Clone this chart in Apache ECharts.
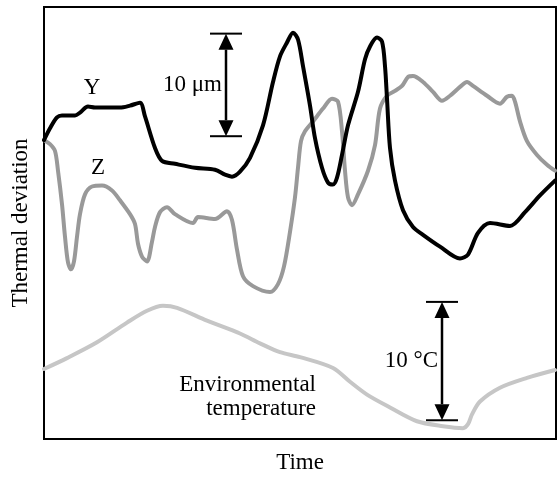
<!DOCTYPE html>
<html>
<head>
<meta charset="utf-8">
<script src="https://cdn.jsdelivr.net/npm/echarts@6/dist/echarts.min.js"></script>
<style>html,body{margin:0;padding:0;background:#fff}#c{width:559px;height:479px}</style>
</head>
<body>
<div id="c"></div>
<script>
// Time (arbitrary units) vs deviation (arbitrary units)
var seriesY = [[0,303],[6,315],[13,326],[18,328],[31,328],[36,331],[44,337],[51,336],[76,336],[86,338],[96,341],[101,327],[111,295],[118,282],[131,279],[151,275],[171,273],[181,268],[188,266],[196,271],[206,285],[219,318],[229,362],[236,388],[243,402],[249,412],[254,405],[259,378],[266,338],[271,305],[278,275],[284,260],[289,258],[293,265],[298,288],[304,318],[314,352],[321,385],[326,398],[333,407],[338,403],[341,378],[343,345],[346,295],[351,262],[359,232],[369,215],[379,207],[396,195],[416,183],[424,187],[434,209],[446,219],[466,216],[481,230],[496,247],[511,262]];
var seriesZ = [[0,303],[6,299],[11,292],[14,272],[18,238],[21,205],[24,179],[27,172],[30,180],[33,205],[36,228],[41,248],[48,256],[58,257],[68,252],[76,242],[86,228],[91,218],[94,198],[98,185],[103,180],[108,200],[111,215],[116,230],[123,235],[131,228],[149,219],[154,225],[171,223],[183,231],[188,222],[193,192],[199,165],[209,155],[226,149],[234,157],[240,175],[246,210],[251,245],[254,275],[257,302],[261,312],[269,322],[279,335],[288,345],[294,342],[298,312],[301,272],[304,245],[308,237],[314,248],[324,272],[331,298],[336,335],[343,348],[351,353],[358,358],[364,367],[369,368],[379,362],[389,352],[398,343],[406,348],[416,357],[423,362],[429,358],[443,348],[456,340],[463,347],[468,348],[471,342],[476,322],[483,302],[493,288],[503,278],[511,272]];
var seriesEnv = [[0,71],[23,82],[53,98],[83,118],[103,130],[119,135],[133,133],[163,120],[196,107],[216,97],[236,88],[256,83],[289,72],[306,58],[323,45],[346,32],[373,18],[399,13],[419,11],[424,15],[428,25],[436,38],[456,52],[483,62],[511,70]];
// scale bars: [x, yLow, yHigh]
var scaleBars = [[182,307,411],[398,19,139]];
var scaleLabels = ['10 μm','10 °C'];
// text annotations: [x, y]
var notePos = [[48,356],[54,275],[272,43]];
var noteText = ['Y','Z','Environmental\ntemperature'];
var noteAlign = ['center','center','right'];

var FONT = '"Liberation Serif","Times New Roman",serif';
var chart = echarts.init(document.getElementById('c'), null, {renderer:'canvas'});
chart.setOption({
  animation:false,
  grid:{left:44,right:3,top:7,bottom:34,show:true,borderColor:'#000',borderWidth:2,backgroundColor:'transparent'},
  xAxis:{type:'value',min:0,max:512,axisLine:{show:false},axisTick:{show:false},axisLabel:{show:false},splitLine:{show:false},
    name:'Time',nameLocation:'middle',nameGap:12,nameTextStyle:{fontFamily:FONT,fontSize:23,color:'#000'}},
  yAxis:{type:'value',min:0,max:438,axisLine:{show:false},axisTick:{show:false},axisLabel:{show:false},splitLine:{show:false},
    name:'Thermal deviation',nameLocation:'middle',nameGap:12,nameTextStyle:{fontFamily:FONT,fontSize:23,color:'#000'}},
  series:[
    {type:'line',data:seriesEnv,showSymbol:false,smooth:0.3,lineStyle:{color:'#c6c6c6',width:4,cap:'round',join:'round'}},
    {type:'line',data:seriesZ,showSymbol:false,smooth:0.3,lineStyle:{color:'#999999',width:4,cap:'round',join:'round'}},
    {type:'line',data:seriesY,showSymbol:false,smooth:0.3,lineStyle:{color:'#000',width:4,cap:'round',join:'round'}},
    {type:'custom',data:scaleBars,renderItem:function(params,api){
      var top = api.coord([api.value(0),api.value(2)]);
      var bot = api.coord([api.value(0),api.value(1)]);
      var x = top[0], hw=16, ah=16, aw=7.5;
      return {type:'group',children:[
        {type:'line',shape:{x1:x,y1:top[1]+ah,x2:x,y2:bot[1]-ah},style:{stroke:'#000',lineWidth:2.5}},
        {type:'line',shape:{x1:x-hw,y1:top[1],x2:x+hw,y2:top[1]},style:{stroke:'#000',lineWidth:2}},
        {type:'line',shape:{x1:x-hw,y1:bot[1],x2:x+hw,y2:bot[1]},style:{stroke:'#000',lineWidth:2}},
        {type:'polygon',shape:{points:[[x,top[1]],[x-aw,top[1]+ah],[x+aw,top[1]+ah]]},style:{fill:'#000'}},
        {type:'polygon',shape:{points:[[x,bot[1]],[x-aw,bot[1]-ah],[x+aw,bot[1]-ah]]},style:{fill:'#000'}},
        {type:'text',x:x-4,y:(top[1]+bot[1])/2,style:{text:scaleLabels[params.dataIndex],fontFamily:FONT,fontSize:23,fill:'#000',align:'right',verticalAlign:'middle'}}
      ]};
    }},
    {type:'custom',data:notePos,renderItem:function(params,api){
      var p = api.coord([api.value(0),api.value(1)]);
      return {type:'text',x:p[0],y:p[1],style:{text:noteText[params.dataIndex],fontFamily:FONT,fontSize:23,lineHeight:24,fill:'#000',align:noteAlign[params.dataIndex],verticalAlign:'middle'}};
    }}
  ]
});
</script>
</body>
</html>
